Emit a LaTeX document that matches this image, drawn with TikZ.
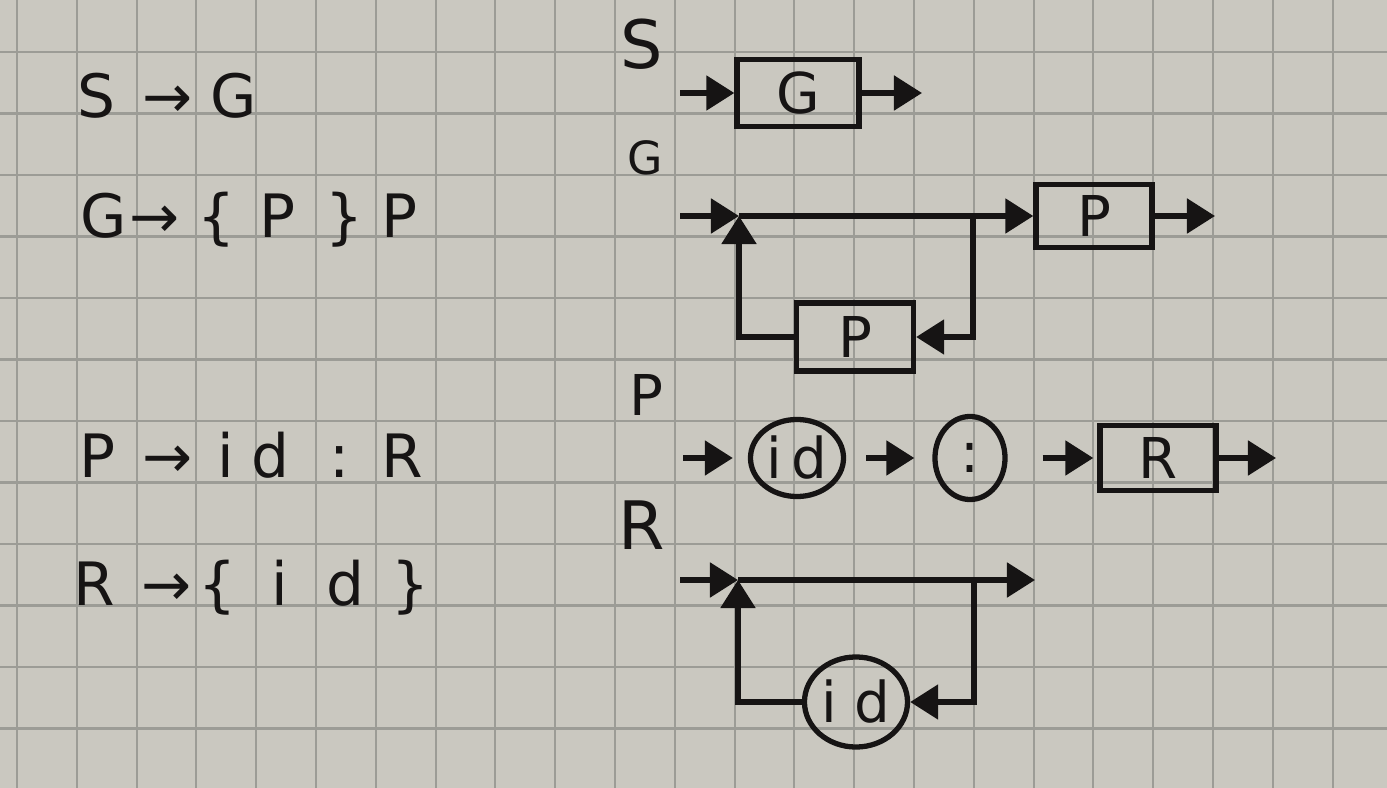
\documentclass[tikz,border=0pt]{standalone}
\usepackage{fontspec}
\setmainfont{DejaVu Sans}
\usetikzlibrary{arrows.meta,shapes.geometric}
\definecolor{paper}{RGB}{202,200,192}
\definecolor{gridc}{RGB}{156,156,150}
\definecolor{ink}{RGB}{22,20,20}
\begin{document}
\begin{tikzpicture}[x=0.01cm,y=-0.01cm,
  txt/.style={text=ink, font=\fontsize{17}{20}\selectfont, inner sep=0pt, anchor=base},
  lab/.style={text=ink, font=\fontsize{18}{20}\selectfont, inner sep=0pt},
  box/.style={draw=ink, line width=1.5pt, rectangle, inner sep=0pt, text=ink, font=\fontsize{16}{18}\selectfont},
  term/.style={draw=ink, line width=1.5pt, ellipse, inner sep=0pt, text=ink, font=\fontsize{16}{18}\selectfont},
  conn/.style={draw=ink, line width=1.5pt, -{Triangle[length=0.28cm,width=0.34cm]}},
  gridline/.style={draw=gridc, line width=0.6pt}]
\fill[paper] (0,0) rectangle (1387,788);
\useasboundingbox (0,0) rectangle (1387,788);
\foreach \k in {0,...,23} \draw[gridline] ({17+59.8*\k},0) -- ++(0,788);
\foreach \k in {0,...,11} \draw[gridline] (0,{52+61.5*\k}) -- ++(1387,0);

% ---- grammar rules (left) ----
\node[txt] (a1) at (96,118) {S};
\node[txt] (a2) at (168,118) {→};
\node[txt] (a3) at (234,118) {G};

\node[txt] (b1) at (104,238) {G};
\node[txt] (b2) at (155,238) {→};
\node[txt] (b3) at (217,238) {\{};
\node[txt] (b4) at (278,238) {P};
\node[txt] (b5) at (345,238) {\}};
\node[txt] (b6) at (400,238) {P};

\node[txt] (c1) at (98,478) {P};
\node[txt] (c2) at (168,478) {→};
\node[txt] (c3) at (226,478) {i};
\node[txt] (c4) at (270,478) {d};
\node[txt] (c5) at (340,478) {:};
\node[txt] (c6) at (402,478) {R};

\node[txt] (d1) at (94,605) {R};
\node[txt] (d2) at (167,605) {→};
\node[txt] (d3) at (218,605) {\{};
\node[txt] (d4) at (280,605) {i};
\node[txt] (d5) at (345,605) {d};
\node[txt] (d6) at (411,605) {\}};

% ---- syntax diagrams (right) ----
\node[lab, font=\fontsize{19}{20}\selectfont] (lS) at (642,44) {S};
\node[lab, font=\fontsize{13}{15}\selectfont] (lG) at (645,158) {G};
\node[lab, font=\fontsize{16}{18}\selectfont] (lP) at (646,395) {P};
\node[lab, font=\fontsize{19}{20}\selectfont] (lR) at (642,525) {R};

% S
\coordinate (sin) at (680,93);
\coordinate (sout) at (922,93);
\node[box, minimum width=1.22cm, minimum height=0.67cm] (gbox) at (798,93) {G};
\draw[conn] (sin) -- (gbox.west);
\draw[conn] (gbox.east) -- (sout);

% G
\coordinate (gin) at (680,216);
\coordinate (gj) at (739,216);
\coordinate (gsplit) at (973,216);
\coordinate (gout) at (1215,216);
\node[box, minimum width=1.16cm, minimum height=0.63cm] (pb1) at (1094,216) {P};
\node[box, minimum width=1.17cm, minimum height=0.68cm] (pb2) at (855,337) {P};
\draw[conn] (gin) -- (gj);
\draw[conn] (gj) -- (pb1.west);
\draw[conn] (pb1.east) -- (gout);
\draw[conn] (gsplit) |- (pb2.east);
\draw[conn] (pb2.west) -| (gj);

% P
\coordinate (pin) at (683,458);
\coordinate (pout) at (1276,458);
\node[term, minimum width=0.93cm, minimum height=0.77cm] (id1) at (797,458) {i\,d};
\node[term, minimum width=0.70cm, minimum height=0.83cm] (col) at (970,458) {:};
\node[box, minimum width=1.16cm, minimum height=0.65cm] (rb) at (1158,458) {R};
\draw[conn, shorten >=0.15cm] (pin) -- (id1.west);
\draw[conn, shorten <=0.2cm, shorten >=0.18cm] (id1.east) -- (col.west);
\draw[conn, shorten <=0.35cm, shorten >=0.04cm] (col.east) -- (rb.west);
\draw[conn] (rb.east) -- (pout);

% R
\coordinate (rin) at (680,580);
\coordinate (rj) at (738,580);
\coordinate (rsplit) at (974,580);
\coordinate (rout) at (1035,580);
\node[term, minimum width=1.03cm, minimum height=0.90cm] (id2) at (856,702) {i d};
\draw[conn] (rin) -- (rj);
\draw[conn] (rj) -- (rout);
\draw[conn] (rsplit) |- (id2.east);
\draw[conn] (id2.west) -| (rj);
\end{tikzpicture}
\end{document}
